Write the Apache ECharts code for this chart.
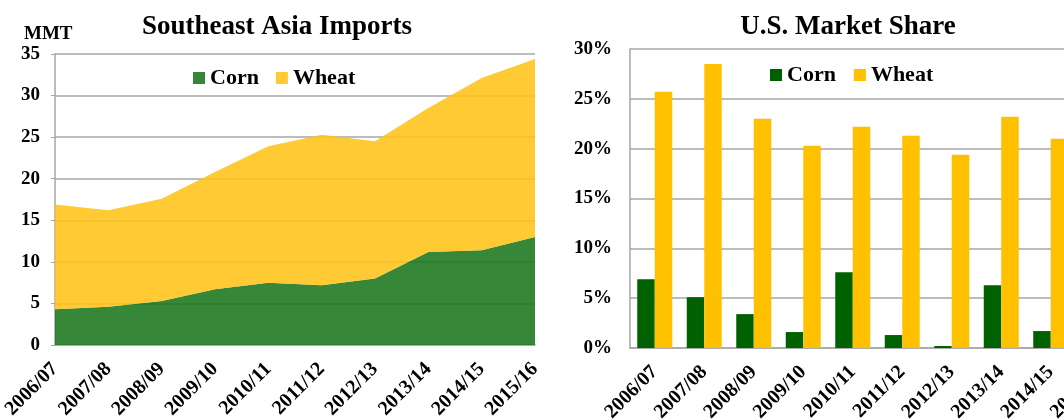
<!DOCTYPE html>
<html>
<head>
<meta charset="utf-8">
<script src="https://cdn.jsdelivr.net/npm/echarts@6/dist/echarts.min.js"></script>
<style>
  html, body { margin: 0; padding: 0; background: #fff; }
  #chart { width: 1064px; height: 420px; }
</style>
</head>
<body>
<div id="chart"></div>
<script>
// marketing years
const years = ['2006/07', '2007/08', '2008/09', '2009/10', '2010/11', '2011/12', '2012/13', '2013/14', '2014/15', '2015/16']

// Southeast Asia imports, MMT (stacked: corn + wheat)
const importCorn = [4.3, 4.6, 5.3, 6.7, 7.5, 7.2, 8.0, 11.2, 11.4, 13.0]
const importWheat = [12.6, 11.6, 12.3, 14.1, 16.4, 18.1, 16.5, 17.3, 20.7, 21.4]

// U.S. market share, percent
const shareCorn = [6.9, 5.1, 3.4, 1.6, 7.6, 1.3, 0.2, 6.3, 1.7, 1.2]
const shareWheat = [25.7, 28.5, 23.0, 20.3, 22.2, 21.3, 19.4, 23.2, 21.0, 20.5]

const font = 'Liberation Serif'
const gridGray = '#A6A6A6'

const chart = echarts.init(document.getElementById('chart'), null, { renderer: 'canvas' })

const boldText = (size) => ({ fontFamily: font, fontWeight: 'bold', fontSize: size, color: '#000' })

chart.setOption({
  animation: false,
  title: [
    { text: 'Southeast Asia Imports', left: 272, top: 9, textAlign: 'center', textStyle: boldText(27) },
    { text: 'U.S. Market Share', left: 843, top: 9, textAlign: 'center', textStyle: boldText(27) },
    { text: 'MMT', left: 19, top: 20, textStyle: boldText(19) }
  ],
  legend: [
    {
      left: 188, top: 62, icon: 'rect', itemWidth: 12, itemHeight: 12, itemGap: 17,
      selectedMode: false,
      textStyle: boldText(22),
      data: [
        { name: 'Corn', itemStyle: { color: '#358637' } },
        { name: 'Wheat', itemStyle: { color: '#FFCA33' } }
      ]
    },
    {
      left: 765, top: 59, icon: 'rect', itemWidth: 12, itemHeight: 12, itemGap: 18,
      selectedMode: false,
      textStyle: boldText(22),
      data: [
        { name: 'Corn', itemStyle: { color: '#006100' } },
        { name: 'Wheat', itemStyle: { color: '#FFC000' } }
      ]
    }
  ],
  grid: [
    { left: 55, top: 54, width: 480, height: 291, outerBoundsMode: 'none', containLabel: false },
    { left: 630, top: 49, width: 495, height: 299, outerBoundsMode: 'none', containLabel: false }
  ],
  xAxis: [
    {
      gridIndex: 0, type: 'category', data: years, boundaryGap: false,
      axisLine: { lineStyle: { color: gridGray, width: 1.5 } },
      axisTick: { show: false },
      axisLabel: { ...boldText(20), rotate: 45, margin: 21, interval: 0 }
    },
    {
      gridIndex: 1, type: 'category', data: years,
      axisLine: { lineStyle: { color: gridGray, width: 1.5 } },
      axisTick: { show: false },
      axisLabel: { ...boldText(20), rotate: 45, margin: 21, interval: 0 }
    }
  ],
  yAxis: [
    {
      gridIndex: 0, type: 'value', min: 0, max: 35, interval: 5,
      axisLine: { show: true, lineStyle: { color: gridGray, width: 1.5 } },
      axisTick: { show: true, length: 4, lineStyle: { color: gridGray } },
      splitLine: { lineStyle: { color: gridGray, width: 1.5 } },
      axisLabel: { ...boldText(19), margin: 15 }
    },
    {
      gridIndex: 1, type: 'value', min: 0, max: 30, interval: 5,
      axisLine: { show: true, lineStyle: { color: gridGray, width: 1.5 } },
      axisTick: { show: false },
      splitLine: { lineStyle: { color: gridGray, width: 1.5 } },
      axisLabel: { ...boldText(19), margin: 18, formatter: '{value}%' }
    }
  ],
  series: [
    {
      name: 'Corn', type: 'line', xAxisIndex: 0, yAxisIndex: 0, stack: 'imports',
      data: importCorn, symbol: 'none',
      lineStyle: { width: 0 },
      itemStyle: { color: '#1A761D' },
      areaStyle: { color: '#1A761D', opacity: 0.88 }
    },
    {
      name: 'Wheat', type: 'line', xAxisIndex: 0, yAxisIndex: 0, stack: 'imports',
      data: importWheat, symbol: 'none',
      lineStyle: { width: 0 },
      itemStyle: { color: '#FFC317' },
      areaStyle: { color: '#FFC317', opacity: 0.88 }
    },
    {
      name: 'Corn', type: 'bar', xAxisIndex: 1, yAxisIndex: 1,
      data: shareCorn, barWidth: 17.5, barGap: '0%',
      itemStyle: { color: '#006100' }
    },
    {
      name: 'Wheat', type: 'bar', xAxisIndex: 1, yAxisIndex: 1,
      data: shareWheat, barWidth: 17.5, barGap: '0%',
      itemStyle: { color: '#FFC000' }
    }
  ]
})
</script>
</body>
</html>
